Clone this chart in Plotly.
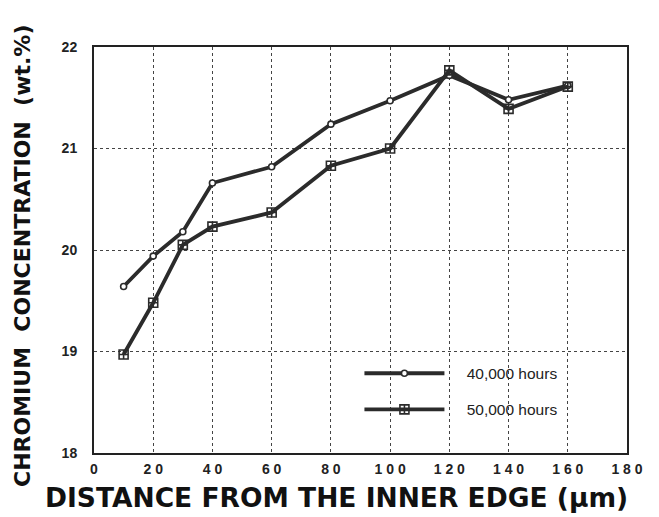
import plotly.graph_objects as go

distance = [10, 20, 30, 40, 60, 80, 100, 120, 140, 160]
cr_40000 = [19.64, 19.94, 20.18, 20.66, 20.82, 21.24, 21.47, 21.72, 21.48, 21.62]
cr_50000 = [18.97, 19.48, 20.05, 20.23, 20.37, 20.83, 21.00, 21.77, 21.39, 21.61]
series_names = ["40,000 hours", "50,000 hours"]
x_ticks = [0, 20, 40, 60, 80, 100, 120, 140, 160, 180]
y_ticks = [18, 19, 20, 21, 22]

FONT = "Liberation Sans, Arial, sans-serif"
TFONT = "DejaVu Sans, Liberation Sans, sans-serif"
INK = "#2b2b2b"
NB = "\u00a0"
PAD = NB * 4

fig = go.Figure()
fig.add_trace(go.Scatter(
    x=distance, y=cr_40000, mode="lines+markers", name=PAD + series_names[0],
    legendgroup="a",
    line=dict(color=INK, width=3.8),
    marker=dict(symbol="circle", size=6, color="white", line=dict(color=INK, width=1.6)),
))
fig.add_trace(go.Scatter(
    x=distance, y=cr_50000, mode="lines+markers", name=PAD + series_names[1],
    legendgroup="b",
    line=dict(color=INK, width=3.8),
    marker=dict(symbol="square-cross-open", size=9, color=INK, line=dict(color=INK, width=1.6)),
))

fig.update_layout(
    width=651, height=509,
    margin=dict(l=86, r=32, t=39, b=64),
    paper_bgcolor="white", plot_bgcolor="white",
    font=dict(family=FONT, color="#222"),
    showlegend=True,
    legend=dict(
        x=0.498, y=0.151, xanchor="left", yanchor="middle",
        bgcolor="rgba(0,0,0,0)", borderwidth=0,
        font=dict(family=FONT, size=15.5, color="#222"),
        itemwidth=80, traceorder="grouped", tracegroupgap=13,
    ),
    annotations=[
        dict(text="DISTANCE FROM THE INNER EDGE (μm)", xref="paper", yref="paper",
             x=(336 - 94) / 533, y=-(497 - 453) / 406, xanchor="center", yanchor="middle",
             showarrow=False,
             font=dict(family=TFONT, size=26.5, color="#111", weight="bold")),
        dict(text=f"CHROMIUM{NB}{NB}CONCENTRATION{NB}{NB}(wt.%)", xref="paper", yref="paper",
             x=-(94 - 22) / 533, y=(453 - 256) / 406, xanchor="center", yanchor="middle",
             textangle=-90, showarrow=False,
             font=dict(family=TFONT, size=22, color="#111", weight="bold")),
    ],
)

fig.update_xaxes(
    range=[0, 180], tickvals=x_ticks, ticktext=[" ".join(str(v)) for v in x_ticks],
    showgrid=True, gridcolor="#444", gridwidth=1.2, griddash="dot",
    showline=True, linecolor="#222", linewidth=2, mirror=True,
    ticks="", zeroline=False,
    tickfont=dict(family=FONT, size=14, color="#222", weight="bold"),
    ticklabelstandoff=2,
)
fig.update_yaxes(
    range=[18, 22], tickvals=y_ticks,
    showgrid=True, gridcolor="#444", gridwidth=1.2, griddash="dot",
    showline=True, linecolor="#222", linewidth=2, mirror=True,
    ticks="", zeroline=False,
    tickfont=dict(family=FONT, size=14, color="#222", weight="bold"),
    ticklabelstandoff=12,
)

fig.write_html("out.html")
